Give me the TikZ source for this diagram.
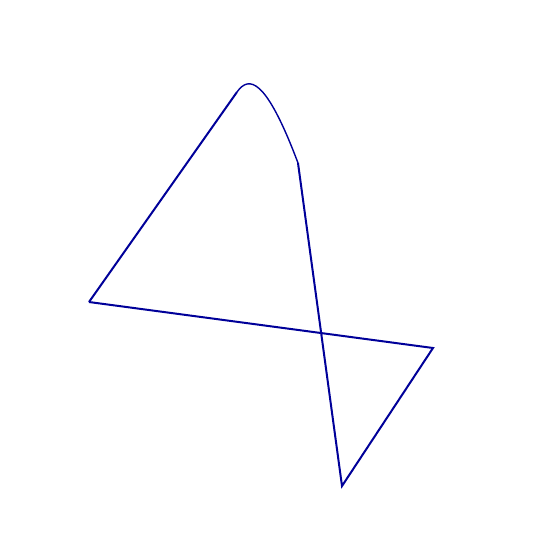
\documentclass[tikz,border=0pt]{standalone}
\usepackage{tikz}
\usetikzlibrary{calc}
\definecolor{edgeblue}{RGB}{0,0,153}

\begin{document}
\begin{tikzpicture}[x=0.5pt,y=-0.5pt]
  \tikzset{
    edge/.style={draw=edgeblue,line width=1pt,line join=miter},
    arc/.style={draw=edgeblue,line width=0.7pt},
  }
  \useasboundingbox (0,0) rectangle (558,559);
  \coordinate (a) at (89,302);
  \coordinate (b) at (237,92);
  \coordinate (c) at (298,163);
  \coordinate (d) at (342,486);
  \coordinate (e) at (433,348);

  \draw[edge] (a) -- (b);
  \draw[arc] (b) .. controls (249,75) and (266,78) .. (c);
  \draw[edge] (c) -- (d) -- (e) -- (a);
\end{tikzpicture}
\end{document}
